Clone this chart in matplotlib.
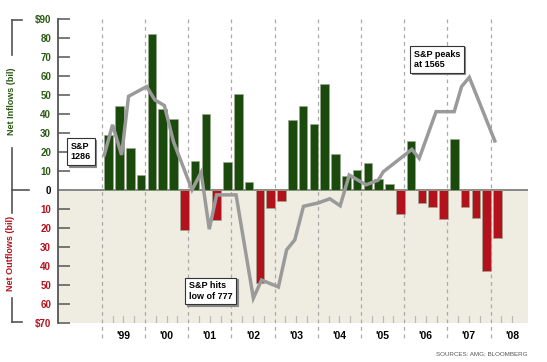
import matplotlib.pyplot as plt
import matplotlib.transforms as mtransforms
from matplotlib.lines import Line2D

# quarterly net flows, $ billions, 1999 Q1 .. 2008 Q1
flows = [29, 44, 22, 8,
         82, 42.5, 37.5, -21,
         15.5, 40, -16, 14.5,
         50.5, 4, -49, -9.5,
         -6, 37, 44, 35,
         56, 19, 7.5, 10.5,
         14, 6, 3, -12.5,
         26, -7, -9, -15.5,
         27, -9, -14.5, -42.5,
         -25.5]

# S&P 500 path (fractional year, index level)
sp_years = [1999.06, 1999.25, 1999.46, 1999.62, 2000.04, 2000.23, 2000.45, 2000.66,
            2001.09, 2001.30, 2001.49, 2001.66, 2002.11, 2002.51, 2002.70, 2003.09,
            2003.28, 2003.47, 2003.67, 2004.01, 2004.28, 2004.52, 2004.73, 2005.12,
            2005.40, 2005.52, 2006.18, 2006.35, 2006.74, 2007.16, 2007.33, 2007.51,
            2007.72, 2008.10]
sp_level = [1290, 1398, 1290, 1500, 1535, 1487, 1467, 1338,
            1165, 1227, 1024, 1147, 1147, 777, 842, 817,
            950, 986, 1106, 1118, 1133, 1108, 1218, 1183,
            1200, 1230, 1310, 1278, 1445, 1445, 1535, 1568,
            1487, 1340]

year_labels = ["'99", "'00", "'01", "'02", "'03", "'04", "'05", "'06", "'07", "'08"]
yticks = list(range(-70, 91, 10))
ytick_labels = ['$70', '60', '50', '40', '30', '20', '10', '0',
                '10', '20', '30', '40', '50', '60', '70', '80', '$90']

GREEN = '#1b4a0d'
GREEN_TXT = '#2a5a14'
RED = '#b3111c'
W, H = 547, 362


def px(x, y):
    return x / W, 1 - y / H


fig = plt.figure(figsize=(W / 100, H / 100), dpi=100)
plt.rcParams['font.family'] = ['Liberation Sans', 'DejaVu Sans']
ax = fig.add_axes([58 / W, 39 / H, (528.3 - 58) / W, (323 - 19) / H])
ax.set_xlim(-4.05, 39.5)
ax.set_ylim(-70, 90)

ax.axhspan(-70, 0, color='#efede2', zorder=0, lw=0)

# year dividers
for k in range(len(year_labels)):
    ax.plot([4 * k, 4 * k], [90, -79], ls=(0, (3, 3)), color='#aaaaaa', lw=0.9,
            clip_on=False, zorder=1)
    ax.text(4 * k + 2, -76.8, year_labels[k], ha='center', va='center',
            fontsize=7.5, fontweight='bold', clip_on=False)

# quarter ticks
for q in range(1, 39):
    if q % 4:
        ax.plot([q, q], [-70, -66.5], color='#bbbbbb', lw=0.9, zorder=1)

ax.axhline(0, color='#888888', lw=1.4, zorder=2)

qpos = [i + 0.65 for i in range(len(flows))]
colors = [GREEN if v >= 0 else RED for v in flows]
ax.bar(qpos, flows, width=0.8, color=colors, edgecolor='#9aa890', lw=0.5, zorder=3)

for s in ['top', 'right', 'bottom']:
    ax.spines[s].set_visible(False)
ax.spines['left'].set_color('#555555')
ax.spines['left'].set_linewidth(1.3)
ax.set_xticks([])
ax.set_yticks(yticks)
ax.set_yticklabels(ytick_labels, fontsize=7, fontweight='bold')
ax.tick_params(axis='y', direction='in', length=8.6, width=1.1, color='#555555', pad=5)
for val, lab in zip(yticks, ax.get_yticklabels()):
    lab.set_color(GREEN_TXT if val > 0 else (RED if val < 0 else 'black'))

# S&P line on its own scale
ax2 = ax.twinx()
ax2.set_ylim(688, 1777)
ax2.axis('off')
ax2.plot([(y - 1999) * 4 for y in sp_years], sp_level, color='#9a9a9a', lw=2.5,
         solid_joinstyle='miter', zorder=5)

# side brackets
for (x0, y0), (x1, y1) in [((11.7, 20), (22, 20)), ((11.7, 20), (11.7, 55)),
                           ((11.7, 148), (11.7, 213)), ((11.7, 190), (29.3, 190)),
                           ((11.7, 298), (11.7, 322)), ((11.7, 322), (22, 322))]:
    a, b = px(x0, y0)
    c, d = px(x1, y1)
    fig.add_artist(Line2D([a, c], [b, d], color='#555555', lw=1.2))

fig.text(*px(11.7, 101), 'Net Inflows (bil)', rotation=90, ha='center', va='center',
         fontsize=6.5, fontweight='bold', color=GREEN_TXT)
fig.text(*px(11, 253), 'Net Outflows (bil)', rotation=90, ha='center', va='center',
         fontsize=6.5, fontweight='bold', color=RED)

# annotation boxes with drop shadow
shadow = mtransforms.offset_copy(fig.transFigure, fig=fig, x=1.5, y=-1.5, units='dots')
for (cx, cy), txt in [((81, 151.7), 'S&P\n1286'),
                      ((210.7, 291), 'S&P hits\nlow of 777'),
                      ((437, 59.3), 'S&P peaks\nat 1565')]:
    x, y = px(cx, cy)
    fig.text(x, y, txt, transform=shadow, ha='center', va='center', ma='left',
             fontsize=6.5, fontweight='bold', color='#888888', zorder=8,
             bbox=dict(boxstyle='square,pad=0.4', fc='#888888', ec='#888888', lw=0.8))
    fig.text(x, y, txt, ha='center', va='center', ma='left', fontsize=6.5,
             fontweight='bold', color='black', zorder=9,
             bbox=dict(boxstyle='square,pad=0.4', fc='white', ec='#333333', lw=0.8))

fig.text(*px(528, 354), 'SOURCES: AMG; BLOOMBERG', ha='right', va='center',
         fontsize=4.5, color='#555555')

fig.savefig('out.png', dpi=100)
